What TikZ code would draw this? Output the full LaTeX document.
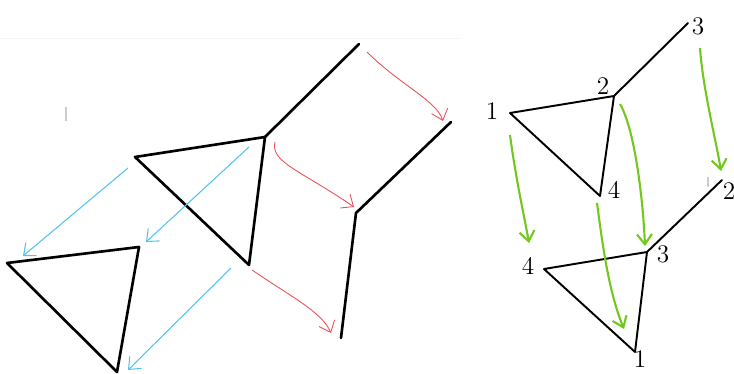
\documentclass[tikz,border=0pt]{standalone}
\usetikzlibrary{arrows.meta}
\definecolor{penred}{RGB}{235,80,90}
\definecolor{penblue}{RGB}{80,195,240}
\definecolor{pengreen}{RGB}{115,200,30}
\begin{document}
\begin{tikzpicture}[
  x=0.02cm, y=-0.02cm,
  edge/.style={line width=1.5pt, line join=round, line cap=round},
  redarr/.style={penred, line width=0.5pt, -{Straight Barb[length=2mm, width=3.4mm]}},
  bluearr/.style={penblue, line width=0.6pt, -{Straight Barb[length=2mm, width=3.4mm]}},
  greenarr/.style={pengreen, line width=1.2pt, -{Straight Barb[length=2mm, width=3mm]}},
  lbl/.style={font=\Large, inner sep=0pt},
  stray/.style={gray!40, line width=0.6pt}
]
  \useasboundingbox (0,0) rectangle (734,374);

  % stray marks of the sketch
  \draw[gray!8, line width=0.5pt] (0,38) -- (460,38);
  \draw[stray] (66,107) -- (66,121);
  \draw[stray] (708,177) -- (708,187);

  % Left: triangle with tail, before and after
  \coordinate (a1) at (135,157);
  \coordinate (a2) at (265,137);
  \coordinate (a3) at (249,265);
  \coordinate (at) at (359,44);

  \coordinate (b1) at (7,263);
  \coordinate (b2) at (139,247);
  \coordinate (b3) at (117,372);

  \coordinate (c1) at (451,122);
  \coordinate (c2) at (356,213);
  \coordinate (c3) at (341,338);

  \draw[edge] (a1) -- (a2) -- (a3) -- cycle;
  \draw[edge] (a2) -- (at);
  \draw[edge] (b1) -- (b2) -- (b3) -- cycle;
  \draw[edge] (c1) -- (c2) -- (c3);

  % Blue arrows
  \coordinate (u1) at (128,168);
  \coordinate (u2) at (249,147);
  \coordinate (u3) at (231,268);
  \coordinate (v1) at (23,256);
  \coordinate (v2) at (146,242);
  \coordinate (v3) at (128,370);
  \draw[bluearr] (u1) -- (v1);
  \draw[bluearr] (u2) -- (v2);
  \draw[bluearr] (u3) -- (v3);

  % Red arrows
  \coordinate (r1) at (367,52);
  \coordinate (r2) at (275,142);
  \coordinate (r3) at (252,270);
  \coordinate (s1) at (443,121);
  \coordinate (s2) at (354,207);
  \coordinate (s3) at (331,333);
  \draw[redarr] (r1) .. controls (400,85) and (436,100) .. (s1);
  \draw[redarr] (r2) .. controls (270,162) and (300,170) .. (s2);
  \draw[redarr] (r3) .. controls (290,296) and (322,312) .. (s3);

  % Right: numbered version
  \coordinate (p1) at (510,113);
  \coordinate (p2) at (614,96);
  \coordinate (p4) at (600,196);
  \coordinate (p3) at (688,23);

  \coordinate (q4) at (544,269);
  \coordinate (q3) at (647,252);
  \coordinate (q1) at (635,352);
  \coordinate (q2) at (722,180);

  \draw[edge, line width=1.1pt] (p1) -- (p2) -- (p4) -- cycle;
  \draw[edge, line width=1.1pt] (p2) -- (p3);
  \draw[edge, line width=1.1pt] (q4) -- (q3) -- (q1) -- cycle;
  \draw[edge, line width=1.1pt] (q3) -- (q2);

  \node[lbl] (n1) at (492,111) {1};
  \node[lbl] (n2) at (603,86) {2};
  \node[lbl] (n4) at (614,190) {4};
  \node[lbl] (n3) at (698,26) {3};
  \node[lbl] (m4) at (528,266) {4};
  \node[lbl] (m3) at (663,254) {3};
  \node[lbl] (m1) at (640,359) {1};
  \node[lbl] (m2) at (729,191) {2};

  % Green arrows
  \coordinate (g1) at (510,135);
  \coordinate (g2) at (620,104);
  \coordinate (g3) at (597,203);
  \coordinate (g4) at (700,48);
  \coordinate (h1) at (529,243);
  \coordinate (h2) at (645,246);
  \coordinate (h3) at (624,329);
  \coordinate (h4) at (721,171);
  \draw[greenarr] (g1) .. controls (516,180) and (524,215) .. (h1);
  \draw[greenarr] (g2) .. controls (635,130) and (643,200) .. (h2);
  \draw[greenarr] (g3) .. controls (602,240) and (608,290) .. (h3);
  \draw[greenarr] (g4) .. controls (703,90) and (716,140) .. (h4);
\end{tikzpicture}
\end{document}
